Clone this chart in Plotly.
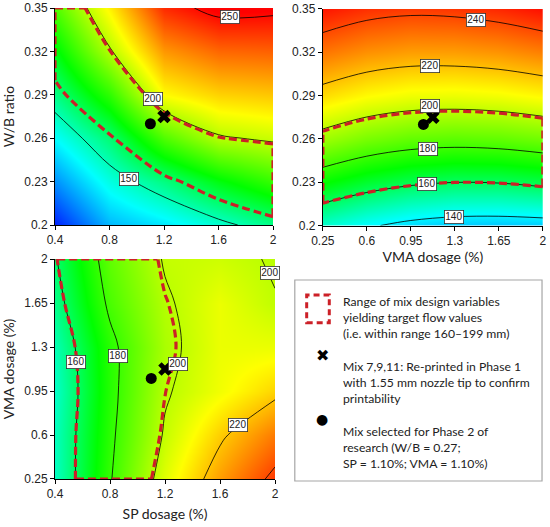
import numpy as np
import plotly.graph_objects as go

# grid nodes (tick values) for the three response-surface panels
sp_vals = [0.4, 0.8, 1.2, 1.6, 2.0]
wb_vals = [0.2, 0.23, 0.26, 0.29, 0.32, 0.35]
vma_vals = [0.25, 0.6, 0.95, 1.3, 1.65, 2.0]

sp_ticktext = ["0.4", "0.8", "1.2", "1.6", "2"]
wb_ticktext = ["0.2", "0.23", "0.26", "0.29", "0.32", "0.35"]
vma_ticktext = ["0.25", "0.6", "0.95", "1.3", "1.65", "2"]

# flow (mm), rows = y nodes, cols = x nodes
flow_sp_wb = [
    [114, 133, 139, 147, 155.5],
    [128, 145, 156, 169, 179],
    [142, 158, 183, 198.5, 202],
    [155.5, 178, 210, 217, 219],
    [169, 198.5, 227, 235, 236],
    [183, 212, 245, 254, 253],
]
flow_vma_wb = [
    [147.3, 141.3, 137.1, 134.9, 134.4, 135.1],
    [171.9, 165.8, 161.9, 160.1, 160.5, 162.9],
    [195.4, 189.4, 185.9, 184.8, 185.7, 188.2],
    [215.5, 210.3, 207.5, 207.0, 208.1, 210.8],
    [232.8, 228.2, 226.0, 226.1, 227.7, 231.0],
    [248.6, 244.2, 242.5, 243.1, 245.5, 249.5],
]
flow_sp_vma = [
    [148.7, 179.1, 205.5, 226.1, 243],
    [149.2, 177.7, 201.2, 218, 232],
    [148, 176.6, 198.8, 208, 217],
    [150.2, 177, 197, 207, 207],
    [155.3, 182.2, 198.5, 207, 200.4],
    [159, 185.7, 201, 202.5, 199.2],
]

# target flow window
target_lo, target_hi = 160, 199

# mixes: 7,9,11 (cross) and the selected Phase 2 mix (dot)
cross_sp, cross_wb, cross_vma = 1.2, 0.275, 1.125
dot_sp, dot_wb, dot_vma = 1.1, 0.27, 1.05

# contour label spots (level, approx x, approx y, snap direction, pixel lift)
labels_sp_wb = [(250, 1.685, 0.341, "y", 0), (200, 1.12, 0.288, "y", 2),
                (150, 0.94, 0.232, "y", 0)]
labels_vma_wb = [(240, 1.47, 0.346, "y", 0), (220, 1.10, 0.313, "y", 0),
                 (200, 1.10, 0.283, "y", 4), (180, 1.09, 0.257, "y", 0),
                 (160, 1.08, 0.232, "y", 0), (140, 1.29, 0.211, "y", 0)]
labels_sp_vma = [(160, 0.545, 1.184, "x", 0), (180, 0.848, 1.23, "x", 0),
                 (200, 1.285, 1.163, "x", 0), (200, 1.915, 1.89, "x", 0),
                 (220, 1.685, 0.681, "x", 0)]

RED = "#cc2027"
rainbow = [
    [0.0, "rgb(0,0,255)"],
    [0.225, "rgb(0,255,255)"],
    [0.43, "rgb(0,255,0)"],
    [0.704, "rgb(255,255,0)"],
    [1.0, "rgb(255,0,0)"],
]

fig = go.Figure()


def edge_runs(xs, ys, z, lo, hi):
    # parts of the frame where the surface sits inside the target window
    z = np.asarray(z, float)
    xs = np.asarray(xs, float)
    ys = np.asarray(ys, float)
    sides = [
        (xs, np.full(len(xs), ys[0]), z[0, :]),
        (np.full(len(ys), xs[-1]), ys, z[:, -1]),
        (xs, np.full(len(xs), ys[-1]), z[-1, :]),
        (np.full(len(ys), xs[0]), ys, z[:, 0]),
    ]
    ex, ey = [], []
    for px, py, pz in sides:
        idx = np.arange(len(pz))
        t = np.linspace(0, len(pz) - 1, 400)
        fx, fy, fz = np.interp(t, idx, px), np.interp(t, idx, py), np.interp(t, idx, pz)
        inside = (fz >= lo) & (fz <= hi)
        for a, b, ok in zip(fx, fy, inside):
            ex.append(float(a) if ok else None)
            ey.append(float(b) if ok else None)
        ex.append(None)
        ey.append(None)
    return ex, ey


def snap(xs, ys, z, level, hx, hy, move):
    # slide the label point onto the contour, along x or y
    z = np.asarray(z, float)
    if move == "y":
        line = np.array([np.interp(hx, xs, row) for row in z])
        pos = np.asarray(ys, float)
        near = hy
    else:
        t = np.interp(hy, ys, np.arange(len(ys)))
        i = min(int(t), len(ys) - 2)
        f = t - i
        line = z[i] * (1 - f) + z[i + 1] * f
        pos = np.asarray(xs, float)
        near = hx
    hits = []
    for k in range(len(pos) - 1):
        a, b = line[k] - level, line[k + 1] - level
        if a == 0 or a * b < 0:
            hits.append(pos[k] + (pos[k + 1] - pos[k]) * a / (a - b))
    if not hits:
        return hx, hy
    best = min(hits, key=lambda p: abs(p - near))
    return (hx, best) if move == "y" else (best, hy)


def add_panel(xs, ys, z, start, end, step, xa, ya, labels):
    fig.add_trace(go.Contour(
        x=xs, y=ys, z=z, xaxis=xa, yaxis=ya,
        colorscale=rainbow, zmin=110, zmax=252, showscale=False,
        contours=dict(coloring="heatmap", start=start, end=end, size=step,
                      showlabels=False),
        line=dict(color="black", width=0.8, smoothing=1),
        hoverinfo="skip",
    ))
    fig.add_trace(go.Contour(
        x=xs, y=ys, z=z, xaxis=xa, yaxis=ya, showscale=False,
        contours=dict(coloring="none", start=target_lo, end=target_hi,
                      size=target_hi - target_lo, showlabels=False),
        line=dict(color=RED, width=3.2, dash="8px,4px", smoothing=1),
        hoverinfo="skip",
    ))
    ex, ey = edge_runs(xs, ys, z, target_lo, target_hi)
    fig.add_trace(go.Scatter(
        x=ex, y=ey, xaxis=xa, yaxis=ya, mode="lines", cliponaxis=False,
        line=dict(color=RED, width=3.2, dash="8px,4px"), hoverinfo="skip",
    ))
    for level, hx, hy, move, lift in labels:
        lx, ly = snap(xs, ys, z, level, hx, hy, move)
        fig.add_annotation(x=lx, y=ly, xref=xa, yref=ya, text=str(level),
                           showarrow=False, bgcolor="white", bordercolor="#333",
                           borderwidth=0.8, borderpad=0.5, yshift=lift,
                           font=dict(family="Liberation Sans", size=10, color="#222"))


add_panel(sp_vals, wb_vals, flow_sp_wb, 150, 250, 50, "x", "y", labels_sp_wb)
add_panel(vma_vals, wb_vals, flow_vma_wb, 140, 240, 20, "x2", "y2", labels_vma_wb)
add_panel(sp_vals, vma_vals, flow_sp_vma, 160, 240, 20, "x3", "y3", labels_sp_vma)

points = [
    ("x", "y", cross_sp, cross_wb, dot_sp, dot_wb),
    ("x2", "y2", cross_vma, cross_wb, dot_vma, dot_wb),
    ("x3", "y3", cross_sp, cross_vma, dot_sp, dot_vma),
]
for xa, ya, cx, cy, dx, dy in points:
    fig.add_trace(go.Scatter(x=[cx], y=[cy], xaxis=xa, yaxis=ya, mode="markers",
                             marker=dict(symbol="x", size=12, color="black"),
                             hoverinfo="skip"))
    fig.add_trace(go.Scatter(x=[dx], y=[dy], xaxis=xa, yaxis=ya, mode="markers",
                             marker=dict(symbol="circle", size=11, color="black"),
                             hoverinfo="skip"))

tick_font = dict(family="Liberation Sans", size=12, color="#222")
title_font = dict(family="Lato", size=14, color="#222")
axis_common = dict(showline=True, linecolor="black", linewidth=1, ticks="outside",
                   ticklen=4, tickcolor="black", showgrid=False, zeroline=False,
                   tickfont=tick_font, title_font=title_font, automargin=False,
                   ticklabeloverflow="allow")

fig.update_layout(
    width=550, height=527,
    margin=dict(l=0, r=0, t=0, b=0, autoexpand=False),
    paper_bgcolor="white", plot_bgcolor="white",
    showlegend=False,
    xaxis=dict(domain=[0.1, 0.4964], range=[0.4, 2.0], tickvals=sp_vals,
               ticktext=sp_ticktext, anchor="y", **axis_common),
    yaxis=dict(domain=[0.573, 0.9848], range=[0.2, 0.35], tickvals=wb_vals,
               ticktext=wb_ticktext, anchor="x", title=dict(text="W/B ratio", standoff=8),
               **axis_common),
    xaxis2=dict(domain=[0.587, 0.987], range=[0.25, 2.0], tickvals=vma_vals,
                ticktext=vma_ticktext, anchor="y2",
                title=dict(text="VMA dosage (%)", standoff=4), **axis_common),
    yaxis2=dict(domain=[0.572, 0.983], range=[0.2, 0.35], tickvals=wb_vals,
                ticktext=wb_ticktext, anchor="x2", **axis_common),
    xaxis3=dict(domain=[0.1, 0.5], range=[0.4, 2.0], tickvals=sp_vals,
                ticktext=sp_ticktext, anchor="y3",
                title=dict(text="SP dosage (%)", standoff=8), **axis_common),
    yaxis3=dict(domain=[0.0911, 0.5085], range=[0.25, 2.0], tickvals=vma_vals,
                ticktext=vma_ticktext, anchor="x3",
                title=dict(text="VMA dosage (%)", standoff=8), **axis_common),
)

# key box
fig.add_shape(type="rect", xref="paper", yref="paper", x0=0.536, x1=0.9855,
              y0=0.0873, y1=0.4687, line=dict(color="#a6a6a6", width=1.2))
fig.add_shape(type="rect", xref="paper", yref="paper", x0=0.5576, x1=0.5987,
              y0=0.3877, y1=0.4402, line=dict(color=RED, width=3, dash="6px,4px"))

key_font = dict(family="Lato", size=12.2, color="#222")
key_items = [
    ("Range of mix design variables<br>yielding target flow values<br>"
     "(i.e. within range 160–199 mm)", 0.3975),
    ("Mix 7,9,11: Re-printed in Phase 1<br>with 1.55 mm nozzle tip to confirm<br>"
     "printability", 0.2742),
    ("Mix selected for Phase 2 of<br>research (W/B = 0.27;<br>"
     "SP = 1.10%; VMA = 1.10%)", 0.1509),
]
for text, ypos in key_items:
    fig.add_annotation(xref="paper", yref="paper", x=0.6195, y=ypos, text=text,
                       showarrow=False, xanchor="left", yanchor="middle",
                       align="left", font=key_font)
fig.add_annotation(xref="paper", yref="paper", x=0.586, y=0.3042, text="✖",
                   showarrow=False, font=dict(family="DejaVu Sans", size=16, color="black"))
fig.add_annotation(xref="paper", yref="paper", x=0.586, y=0.1854, text="●",
                   showarrow=False, font=dict(family="DejaVu Sans", size=14, color="black"))

# page body margin off so the figure sits flush with the window
fig.write_html("out.html", config={"displayModeBar": False},
               post_script="document.body.style.margin = '0px';")
